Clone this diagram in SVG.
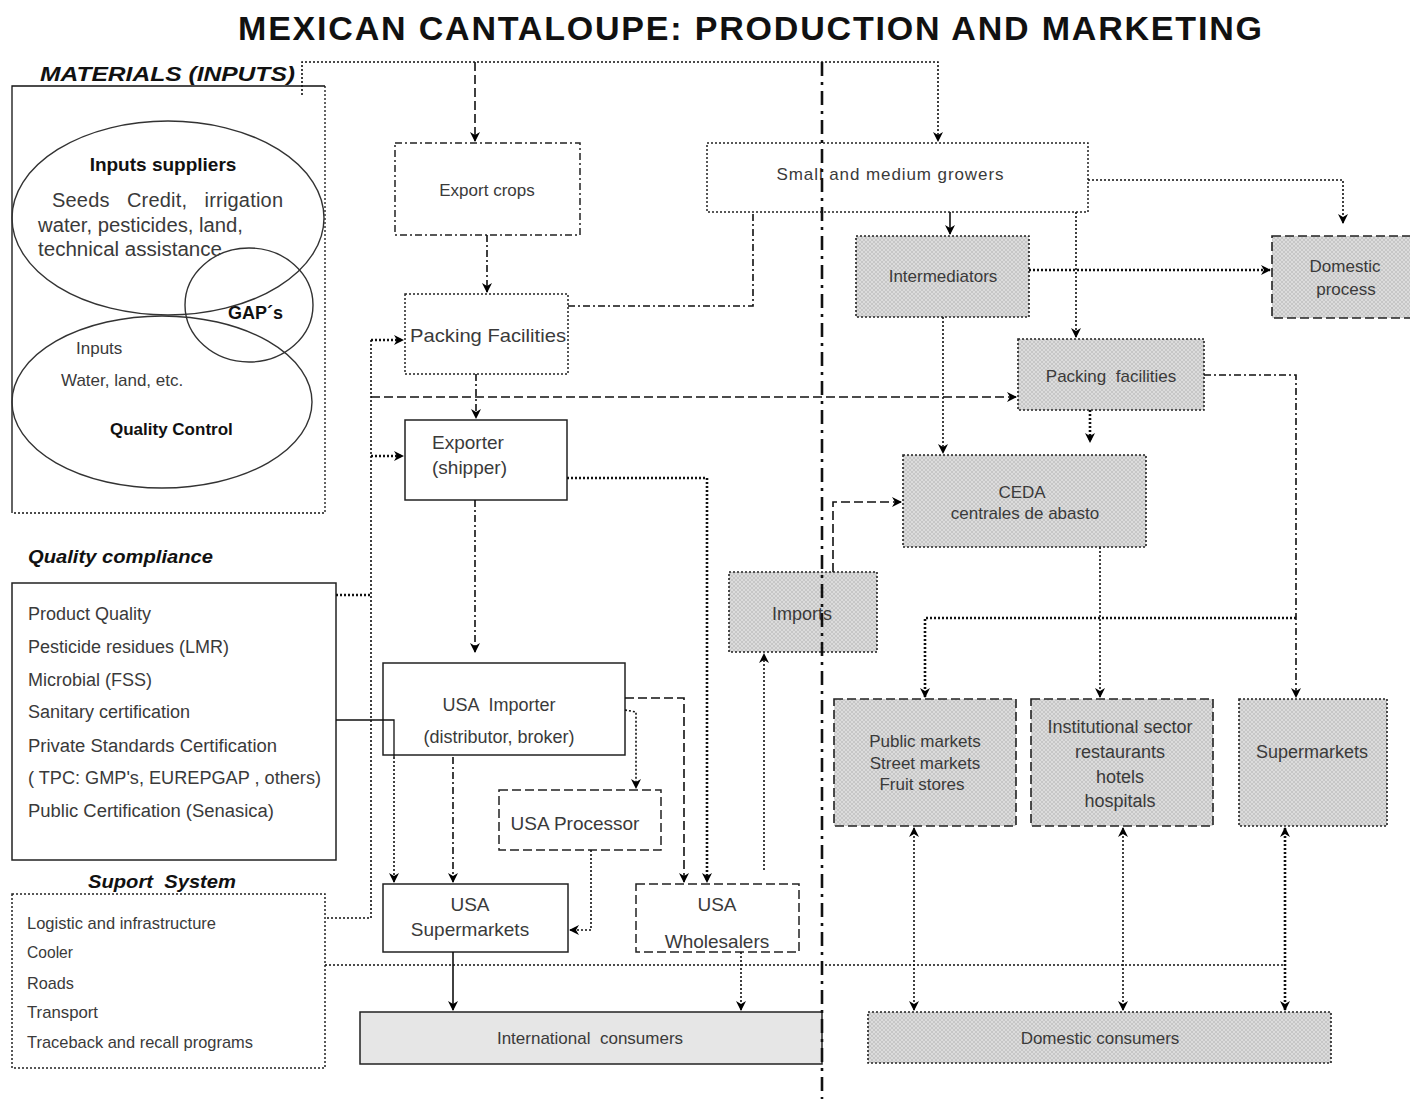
<svg xmlns="http://www.w3.org/2000/svg" width="1410" height="1099" viewBox="0 0 1410 1099">
  <defs>
    <marker id="arr" markerWidth="10" markerHeight="10" refX="9" refY="5" orient="auto" markerUnits="userSpaceOnUse">
      <path d="M0,0 L10,5 L0,10 L3,5 z" fill="#000"/>
    </marker>
    <marker id="arrs" markerWidth="10" markerHeight="10" refX="1" refY="5" orient="auto" markerUnits="userSpaceOnUse">
      <path d="M10,0 L0,5 L10,10 L7,5 z" fill="#000"/>
    </marker>
    <pattern id="hatch" width="4" height="4" patternUnits="userSpaceOnUse">
      <rect width="4" height="4" fill="#dcdcdc"/>
      <path d="M0,0 L4,4 M4,0 L0,4" stroke="#c2c2c2" stroke-width="0.8"/>
    </pattern>
    <style>
      .t { font-family: "Liberation Sans", Arial, sans-serif; fill: #3a3a3a; }
      .tb { font-family: "Liberation Sans", Arial, sans-serif; font-weight: bold; fill: #111; }
      .ti { font-family: "Liberation Sans", Arial, sans-serif; font-weight: bold; font-style: italic; fill: #111; }
      .box { fill: #fff; stroke: #222; stroke-width: 1.5; }
      .gbox { fill: url(#hatch); stroke: #222; stroke-width: 1.6; }
      .dot { stroke-dasharray: 2 2; }
      .dash { stroke-dasharray: 9 4; }
      .dd { stroke-dasharray: 7 3 2 3; }
      .ell { fill: none; stroke: #333; stroke-width: 1.4; }
      .c { fill: none; stroke: #111; stroke-width: 1.6; }
      .cs { fill: none; stroke: #111; stroke-width: 1.3; }
      .heavy { stroke-width: 2.6; }
    </style>
  </defs>

  <!-- Title -->
  <text x="750" y="40" text-anchor="middle" font-family="Liberation Sans, Arial, sans-serif" font-weight="bold" font-size="34" textLength="1024" lengthAdjust="spacing" fill="#111">MEXICAN CANTALOUPE: PRODUCTION AND MARKETING</text>

  <!-- Inputs panel -->
  <g id="materials">
    <text class="ti" x="40" y="81" font-size="20" textLength="255" lengthAdjust="spacingAndGlyphs">MATERIALS (INPUTS)</text>
    <path d="M12,513 L12,86 L325,86" class="cs"/>
    <path d="M325,86 L325,513 L12,513" class="cs dot"/>
    <ellipse cx="168" cy="218" rx="156" ry="97" class="ell"/>
    <ellipse cx="249" cy="305" rx="64" ry="57" class="ell"/>
    <ellipse cx="162" cy="402" rx="150" ry="86" class="ell"/>
    <text class="tb" x="163" y="171" font-size="19" text-anchor="middle">Inputs suppliers</text>
    <text class="t" x="52" y="207" font-size="20" textLength="231" lengthAdjust="spacing" xml:space="preserve">Seeds   Credit,   irrigation</text>
    <text class="t" x="38" y="232" font-size="20" textLength="205" lengthAdjust="spacingAndGlyphs">water, pesticides, land,</text>
    <text class="t" x="38" y="256" font-size="20" textLength="184" lengthAdjust="spacingAndGlyphs">technical assistance</text>
    <text class="tb" x="228" y="319" font-size="18">GAP´s</text>
    <text class="t" x="76" y="354" font-size="17">Inputs</text>
    <text class="t" x="61" y="386" font-size="17">Water, land, etc.</text>
    <text class="tb" x="110" y="435" font-size="17">Quality Control</text>
  </g>

  <!-- Quality compliance panel -->
  <g id="quality">
    <text class="ti" x="28" y="563" font-size="19" textLength="185" lengthAdjust="spacingAndGlyphs">Quality compliance</text>
    <rect x="12" y="583" width="324" height="277" class="box"/>
    <text class="t" x="28" y="620" font-size="18">Product Quality</text>
    <text class="t" x="28" y="653" font-size="18">Pesticide residues (LMR)</text>
    <text class="t" x="28" y="686" font-size="18">Microbial (FSS)</text>
    <text class="t" x="28" y="718" font-size="18">Sanitary certification</text>
    <text class="t" x="28" y="752" font-size="18" textLength="249" lengthAdjust="spacingAndGlyphs">Private Standards Certification</text>
    <text class="t" x="28" y="784" font-size="18" textLength="293" lengthAdjust="spacingAndGlyphs">( TPC: GMP's, EUREPGAP , others)</text>
    <text class="t" x="28" y="817" font-size="18" textLength="246" lengthAdjust="spacingAndGlyphs">Public Certification (Senasica)</text>
  </g>

  <!-- Support system panel -->
  <g id="support">
    <text class="ti" x="88" y="888" font-size="19" textLength="148" lengthAdjust="spacingAndGlyphs" xml:space="preserve">Suport  System</text>
    <rect x="12" y="894" width="313" height="174" class="box dot"/>
    <text class="t" x="27" y="929" font-size="17" textLength="189" lengthAdjust="spacingAndGlyphs">Logistic and infrastructure</text>
    <text class="t" x="27" y="958" font-size="17" textLength="46" lengthAdjust="spacingAndGlyphs">Cooler</text>
    <text class="t" x="27" y="989" font-size="17" textLength="47" lengthAdjust="spacingAndGlyphs">Roads</text>
    <text class="t" x="27" y="1018" font-size="17" textLength="71" lengthAdjust="spacingAndGlyphs">Transport</text>
    <text class="t" x="27" y="1048" font-size="17" textLength="226" lengthAdjust="spacingAndGlyphs">Traceback and recall programs</text>
  </g>

  <!-- Export chain -->
  <g id="export-crops">
    <rect x="395" y="143" width="185" height="92" class="box dd"/>
    <text class="t" x="487" y="196" font-size="17" text-anchor="middle">Export crops</text>
  </g>
  <g id="packing-export">
    <rect x="405" y="294" width="163" height="80" class="box dot"/>
    <text class="t" x="410" y="342" font-size="19" textLength="156" lengthAdjust="spacingAndGlyphs">Packing Facilities</text>
  </g>
  <g id="exporter">
    <rect x="405" y="420" width="162" height="80" class="box"/>
    <text class="t" x="432" y="449" font-size="19">Exporter</text>
    <text class="t" x="432" y="474" font-size="19">(shipper)</text>
  </g>
  <g id="usa-importer">
    <rect x="383" y="663" width="242" height="92" class="box"/>
    <text class="t" x="499" y="711" font-size="18" text-anchor="middle" xml:space="preserve">USA  Importer</text>
    <text class="t" x="499" y="743" font-size="18" text-anchor="middle">(distributor, broker)</text>
  </g>
  <g id="usa-processor">
    <rect x="499" y="790" width="162" height="60" class="box dash"/>
    <text class="t" x="575" y="830" font-size="19" text-anchor="middle">USA Processor</text>
  </g>
  <g id="usa-supermarkets">
    <rect x="383" y="884" width="185" height="68" class="box"/>
    <text class="t" x="470" y="911" font-size="19" text-anchor="middle">USA</text>
    <text class="t" x="470" y="936" font-size="19" text-anchor="middle">Supermarkets</text>
  </g>
  <g id="usa-wholesalers">
    <rect x="636" y="884" width="163" height="68" class="box dash"/>
    <text class="t" x="717" y="911" font-size="19" text-anchor="middle">USA</text>
    <text class="t" x="717" y="948" font-size="19" text-anchor="middle">Wholesalers</text>
  </g>
  <g id="international-consumers">
    <rect x="360" y="1012" width="462" height="52" fill="#e6e6e6" stroke="#222" stroke-width="1.5"/>
    <text class="t" x="590" y="1044" font-size="17" text-anchor="middle" xml:space="preserve">International  consumers</text>
  </g>

  <!-- Domestic chain -->
  <g id="growers">
    <rect x="707" y="143" width="381" height="69" class="box dot"/>
    <text class="t" x="890" y="180" font-size="17" text-anchor="middle" textLength="227" lengthAdjust="spacing">Small and medium growers</text>
  </g>
  <g id="intermediators">
    <rect x="856" y="236" width="173" height="81" class="gbox dot"/>
    <text class="t" x="943" y="282" font-size="17" text-anchor="middle">Intermediators</text>
  </g>
  <g id="domestic-process">
    <rect x="1272" y="236" width="140" height="82" class="gbox dash"/>
    <text class="t" x="1345" y="272" font-size="17" text-anchor="middle">Domestic</text>
    <text class="t" x="1346" y="295" font-size="17" text-anchor="middle">process</text>
  </g>
  <g id="packing-domestic">
    <rect x="1018" y="339" width="186" height="71" class="gbox dot"/>
    <text class="t" x="1111" y="382" font-size="17" text-anchor="middle" xml:space="preserve">Packing  facilities</text>
  </g>
  <g id="ceda">
    <rect x="903" y="455" width="243" height="92" class="gbox dot"/>
    <text class="t" x="1022" y="498" font-size="17" text-anchor="middle">CEDA</text>
    <text class="t" x="1025" y="519" font-size="17" text-anchor="middle">centrales de abasto</text>
  </g>
  <g id="imports">
    <rect x="729" y="572" width="148" height="80" class="gbox dot"/>
    <text class="t" x="802" y="620" font-size="18" text-anchor="middle">Imports</text>
  </g>
  <g id="public-markets">
    <rect x="834" y="699" width="182" height="127" class="gbox dash"/>
    <text class="t" x="925" y="747" font-size="17" text-anchor="middle">Public markets</text>
    <text class="t" x="925" y="769" font-size="17" text-anchor="middle">Street markets</text>
    <text class="t" x="922" y="790" font-size="17" text-anchor="middle">Fruit stores</text>
  </g>
  <g id="institutional">
    <rect x="1031" y="699" width="182" height="127" class="gbox dash"/>
    <text class="t" x="1120" y="733" font-size="18" text-anchor="middle">Institutional sector</text>
    <text class="t" x="1120" y="758" font-size="18" text-anchor="middle">restaurants</text>
    <text class="t" x="1120" y="783" font-size="18" text-anchor="middle">hotels</text>
    <text class="t" x="1120" y="807" font-size="18" text-anchor="middle">hospitals</text>
  </g>
  <g id="supermarkets">
    <rect x="1239" y="699" width="148" height="127" class="gbox dot"/>
    <text class="t" x="1312" y="758" font-size="18" text-anchor="middle">Supermarkets</text>
  </g>
  <g id="domestic-consumers">
    <rect x="868" y="1012" width="463" height="51" class="gbox dot"/>
    <text class="t" x="1100" y="1044" font-size="17" text-anchor="middle">Domestic consumers</text>
  </g>

  <!-- Connectors -->
  <g id="connectors">
    <!-- export / domestic divider -->
    <path d="M822,62 L822,1099" class="c heavy" stroke-dasharray="14 6 3 6"/>

    <!-- inputs feed to both chains -->
    <path d="M302,95 L302,62 L938,62 L938,141" class="c dot" marker-end="url(#arr)"/>
    <path d="M475,62 L475,141" class="c dash" marker-end="url(#arr)"/>

    <!-- export chain flows -->
    <path d="M487,235 L487,292" class="c dd" marker-end="url(#arr)"/>
    <path d="M568,306 L753,306 L753,212" class="c dd"/>
    <path d="M476,374 L476,418" class="c dd" marker-end="url(#arr)"/>
    <path d="M475,500 L475,652" class="c dd" marker-end="url(#arr)"/>
    <path d="M567,478 L707,478 L707,882" class="c dot heavy" marker-end="url(#arr)"/>
    <path d="M625,698 L684,698 L684,882" class="c dash" marker-end="url(#arr)"/>
    <path d="M625,710 L636,712 L636,788" class="c dot" marker-end="url(#arr)"/>
    <path d="M453,757 L453,882" class="c dd" marker-end="url(#arr)"/>
    <path d="M591,850 L591,930 L570,930" class="c dot" marker-end="url(#arr)"/>
    <path d="M453,952 L453,1010" class="c" marker-end="url(#arr)"/>
    <path d="M741,952 L741,1010" class="c dot" marker-end="url(#arr)"/>
    <path d="M764,870 L764,654" class="c dot" marker-end="url(#arr)"/>

    <!-- quality and support links -->
    <path d="M336,595 L371,595" class="c dot heavy"/>
    <path d="M371,340 L371,918 L325,918" class="c dot"/>
    <path d="M371,340 L403,340" class="c dot heavy" marker-end="url(#arr)"/>
    <path d="M371,456 L403,456" class="c dot heavy" marker-end="url(#arr)"/>
    <path d="M371,397 L1016,397" class="c dash" marker-end="url(#arr)"/>
    <path d="M336,720 L394,720 L394,757" class="cs"/>
    <path d="M394,757 L394,882" class="c dot" marker-end="url(#arr)"/>
    <path d="M325,965 L1285,965" class="c dot"/>

    <!-- domestic chain flows -->
    <path d="M950,212 L950,234" class="c" marker-end="url(#arr)"/>
    <path d="M1088,180 L1343,180 L1343,223" class="c dot" marker-end="url(#arr)"/>
    <path d="M1029,270 L1270,270" class="c dot heavy" marker-end="url(#arr)"/>
    <path d="M1076,212 L1076,337" class="c dot" marker-end="url(#arr)"/>
    <path d="M943,317 L943,453" class="c dot" marker-end="url(#arr)"/>
    <path d="M1090,410 L1090,442" class="c dot heavy" marker-end="url(#arr)"/>
    <path d="M1204,375 L1296,375 L1296,697" class="c dd" marker-end="url(#arr)"/>
    <path d="M833,572 L833,502 L901,502" class="c dash" marker-end="url(#arr)"/>
    <path d="M1100,547 L1100,697" class="c dot" marker-end="url(#arr)"/>
    <path d="M1296,618 L925,618 L925,697" class="c dot heavy" marker-end="url(#arr)"/>

    <!-- retail to domestic consumers -->
    <path d="M914,1010 L914,828" class="c dot" marker-start="url(#arrs)" marker-end="url(#arr)"/>
    <path d="M1123,1010 L1123,828" class="c dot" marker-start="url(#arrs)" marker-end="url(#arr)"/>
    <path d="M1285,1010 L1285,828" class="c dot heavy" marker-start="url(#arrs)" marker-end="url(#arr)"/>
  </g>
</svg>
